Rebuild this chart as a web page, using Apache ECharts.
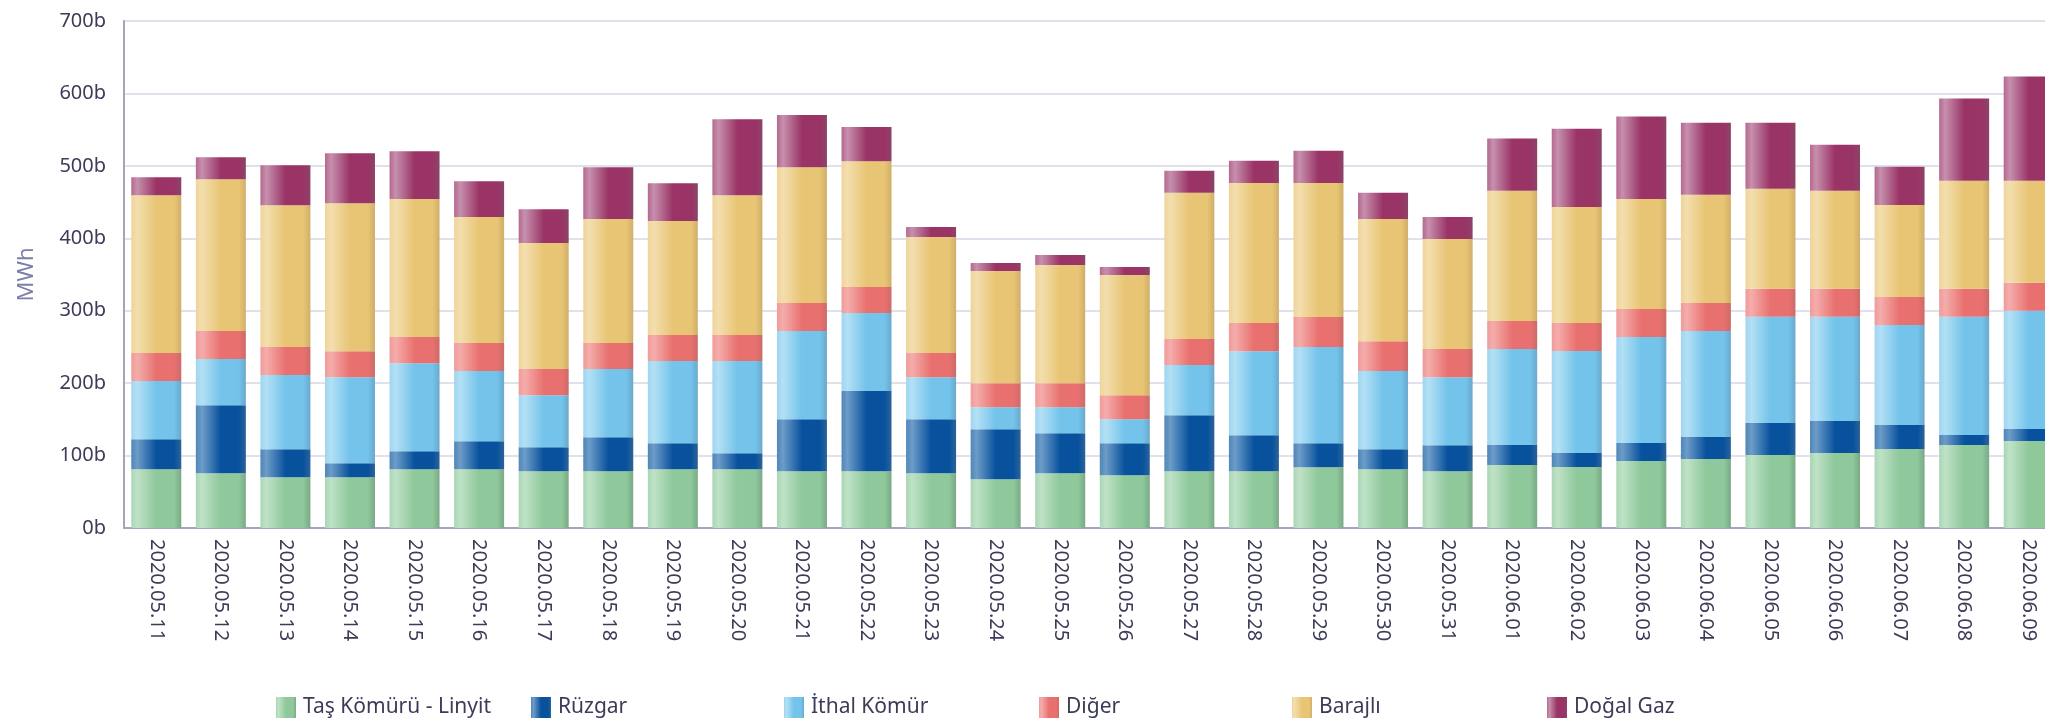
<!DOCTYPE html>
<html>
<head>
<meta charset="utf-8">
<script src="https://cdn.jsdelivr.net/npm/echarts@6/dist/echarts.min.js"></script>
<style>
  html, body { margin: 0; padding: 0; background: #ffffff; overflow: hidden; }
  #chart { width: 2061px; height: 725px; }
</style>
</head>
<body>
<div id="chart"></div>
<script>
// Daily electricity generation by source, thousand MWh ("b")
const categories = [
  '2020.05.11', '2020.05.12', '2020.05.13', '2020.05.14', '2020.05.15', '2020.05.16',
  '2020.05.17', '2020.05.18', '2020.05.19', '2020.05.20', '2020.05.21', '2020.05.22',
  '2020.05.23', '2020.05.24', '2020.05.25', '2020.05.26', '2020.05.27', '2020.05.28',
  '2020.05.29', '2020.05.30', '2020.05.31', '2020.06.01', '2020.06.02', '2020.06.03',
  '2020.06.04', '2020.06.05', '2020.06.06', '2020.06.07', '2020.06.08', '2020.06.09'
];

const tasKomuruLinyit = [81.1, 75.6, 70.0, 70.0, 81.1, 81.1, 78.3, 78.3, 81.1, 81.1, 78.3, 78.3, 75.6, 67.3, 75.6, 72.8, 78.3, 78.3, 83.8, 81.1, 78.3, 86.9, 84.1, 92.4, 95.2, 100.7, 103.5, 109.0, 114.5, 120.0];
const ruzgar          = [41.5, 94.0, 38.8, 19.4, 24.9, 38.7, 33.2, 47.0, 35.9, 22.1, 71.9, 110.7, 74.6, 69.1, 55.3, 44.2, 77.5, 49.8, 33.2, 27.7, 36.0, 27.6, 19.4, 24.9, 30.4, 44.2, 44.2, 33.2, 13.8, 16.6];
const ithalKomur      = [80.2, 63.6, 102.3, 118.9, 121.6, 96.8, 71.9, 94.1, 113.4, 127.2, 121.7, 107.8, 58.1, 30.4, 35.9, 33.2, 69.1, 116.1, 132.8, 107.8, 94.0, 132.7, 141.0, 146.3, 146.4, 146.6, 143.8, 138.2, 163.2, 163.2];
const diger           = [38.7, 38.7, 38.7, 35.9, 36.0, 38.7, 36.0, 35.9, 36.0, 36.0, 38.7, 35.9, 33.2, 33.2, 33.2, 33.2, 35.9, 38.7, 41.4, 41.4, 38.7, 38.7, 38.7, 38.7, 38.8, 38.7, 38.7, 38.7, 38.7, 38.7];
const barajli         = [217.9, 209.7, 195.8, 204.2, 190.8, 174.2, 174.1, 171.4, 157.6, 193.0, 187.6, 173.8, 160.3, 154.8, 163.1, 165.9, 201.9, 193.6, 185.3, 168.7, 152.0, 179.8, 160.1, 152.1, 149.2, 138.2, 135.5, 127.0, 149.3, 141.0];
const dogalGaz        = [24.9, 30.4, 55.3, 69.1, 65.9, 49.3, 46.6, 71.5, 52.0, 105.1, 72.1, 47.0, 13.9, 11.1, 13.9, 11.1, 30.4, 30.4, 44.2, 36.0, 30.5, 71.9, 108.1, 113.6, 99.5, 91.1, 63.6, 52.5, 113.4, 143.8];

const seriesNames = ['Taş Kömürü - Linyit', 'Rüzgar', 'İthal Kömür', 'Diğer', 'Barajlı', 'Doğal Gaz'];
const seriesValues = [tasKomuruLinyit, ruzgar, ithalKomur, diger, barajli, dogalGaz];

// Cylinder-like shading for each bar: [left edge, highlight, base, right edge]
const palettes = [
  ['#a9d6b4', '#bfe2c7', '#8ec89b', '#7aa986'],
  ['#4f86b8', '#6d9cc8', '#08529d', '#2c6399'],
  ['#9fd5f0', '#b3e0f5', '#73c3ea', '#6aa9cc'],
  ['#f09a9a', '#f4adab', '#e8716f', '#cc6b69'],
  ['#efd49a', '#f3deae', '#e8c574', '#cfae69'],
  ['#b5688f', '#c690ad', '#9a3466', '#8b4467']
];

function shade(p) {
  return new echarts.graphic.LinearGradient(0, 0, 1, 0, [
    { offset: 0, color: p[0] },
    { offset: 0.12, color: p[1] },
    { offset: 0.5, color: p[2] },
    { offset: 0.86, color: p[2] },
    { offset: 1, color: p[3] }
  ]);
}

const FONT = 'Noto Sans';
const TEXT = '#3c3c58';

const legendLefts = [276, 531, 784, 1039, 1292, 1547];

const chart = echarts.init(document.getElementById('chart'), null, { renderer: 'canvas' });

chart.setOption({
  animation: false,
  backgroundColor: '#ffffff',
  textStyle: { fontFamily: FONT },
  // the plot runs a little past the right edge of the page, clipping the last bar
  grid: { left: 124, right: 0, top: 21, bottom: 197, containLabel: false },
  legend: seriesNames.map((name, i) => ({
    data: [name],
    left: legendLefts[i],
    top: 697,
    orient: 'horizontal',
    icon: 'rect',
    itemWidth: 20,
    itemHeight: 21,
    itemGap: 0,
    padding: 0,
    selectedMode: false,
    textStyle: { fontFamily: FONT, fontSize: 21, color: TEXT, padding: [0, 0, 0, 2] }
  })),
  xAxis: {
    type: 'category',
    data: categories,
    axisLine: { lineStyle: { color: '#a4a4bf', width: 2 } },
    axisTick: { show: false },
    axisLabel: {
      rotate: -90,
      margin: 11,
      fontFamily: FONT,
      fontSize: 20,
      color: TEXT,
      interval: 0
    }
  },
  yAxis: {
    type: 'value',
    min: 0,
    max: 700,
    interval: 100,
    name: 'MWh',
    nameLocation: 'middle',
    nameGap: 86,
    nameRotate: 90,
    nameTextStyle: { fontFamily: FONT, fontSize: 22, color: '#7b80a8' },
    axisLine: { show: true, lineStyle: { color: '#a4a4bf', width: 2 } },
    axisTick: { show: false },
    axisLabel: {
      margin: 18,
      fontFamily: FONT,
      fontSize: 20,
      color: TEXT,
      formatter: v => v + 'b'
    },
    splitLine: { lineStyle: { color: '#e1e1ec', width: 2 } }
  },
  series: seriesNames.map((name, i) => ({
    name: name,
    type: 'bar',
    stack: 'total',
    barWidth: 50,
    data: seriesValues[i],
    itemStyle: { color: shade(palettes[i]) },
    emphasis: { disabled: true }
  }))
});
</script>
</body>
</html>
